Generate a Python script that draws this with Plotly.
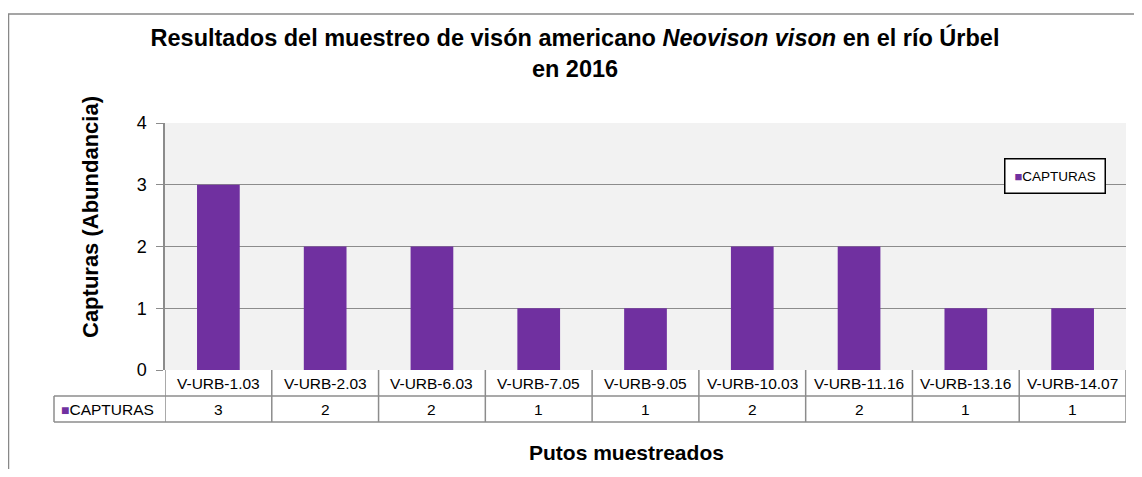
import plotly.graph_objects as go

# Datos del gráfico
puntos = ['V-URB-1.03', 'V-URB-2.03', 'V-URB-6.03', 'V-URB-7.05', 'V-URB-9.05',
          'V-URB-10.03', 'V-URB-11.16', 'V-URB-13.16', 'V-URB-14.07']
capturas = [3, 2, 2, 1, 1, 2, 2, 1, 1]
serie = 'CAPTURAS'

# La página deja 8 px de margen, así que todo se mide en píxeles de la imagen y se desplaza
OFF = 8
W, H = 1142 - 2 * OFF, 477 - 2 * OFF
L, R, T, B = 165, 1126, 123, 370  # área de trazado (px de la imagen)
morado = '#7030A0'
gris = '#8C8C8C'


def px(x):
    return (x - L) / (R - L)


def py(y):
    return (B - y) / (B - T)


fig = go.Figure()
fig.add_trace(go.Bar(x=list(range(len(puntos))), y=capturas, name=serie,
                     marker=dict(color=morado, line=dict(width=0)), width=0.4,
                     showlegend=False))

shapes = []
annotations = []

# Marco exterior del gráfico
shapes.append(dict(type='rect', xref='paper', yref='paper',
                   x0=px(8.5), x1=px(1160), y0=py(14), y1=py(500),
                   line=dict(color='#888888', width=1.5), layer='below'))

# Tabla de datos bajo el eje
y_fila1, y_fila2, y_fila3 = 370, 396, 422
for y in (y_fila2, y_fila3):
    shapes.append(dict(type='line', xref='paper', yref='paper', x0=px(54), x1=px(R),
                       y0=py(y), y1=py(y), line=dict(color=gris, width=1.5)))
for i in range(len(puntos) + 1):
    shapes.append(dict(type='line', xref='x', yref='paper', x0=i - 0.5, x1=i - 0.5,
                       y0=py(y_fila1), y1=py(y_fila3), line=dict(color=gris, width=1.5)))
shapes.append(dict(type='line', xref='paper', yref='paper', x0=px(54), x1=px(54),
                   y0=py(y_fila2), y1=py(y_fila3), line=dict(color=gris, width=1.5)))

for i, (p, c) in enumerate(zip(puntos, capturas)):
    annotations.append(dict(x=i, y=py((y_fila1 + y_fila2) / 2), xref='x', yref='paper',
                            xanchor='center', yanchor='middle',
                            text=p, showarrow=False, font=dict(size=15.5, color='#000')))
    annotations.append(dict(x=i, y=py((y_fila2 + y_fila3) / 2), xref='x', yref='paper',
                            xanchor='center', yanchor='middle',
                            text=str(c), showarrow=False, font=dict(size=15.5, color='#000')))

annotations.append(dict(x=px(59), y=py((y_fila2 + y_fila3) / 2), xref='paper', yref='paper',
                        xanchor='left', yanchor='middle',
                        text='<span style="color:%s;font-size:14px">■</span>%s' % (morado, serie),
                        showarrow=False, font=dict(size=15.5, color='#000')))

# Leyenda
annotations.append(dict(x=px(1004), y=py(158), xref='paper', yref='paper',
                        xanchor='left', yanchor='top',
                        text='<span style="color:%s;font-size:13px">■</span>%s' % (morado, serie),
                        showarrow=False, font=dict(size=13.5, color='#000'),
                        bgcolor='white', bordercolor='#000', borderwidth=1.5,
                        borderpad=9))

# Títulos de los ejes
annotations.append(dict(x=px(90), y=py(217), xref='paper', yref='paper', textangle=-90,
                        xanchor='center', yanchor='middle',
                        text='<b>Capturas (Abundancia)</b>', showarrow=False,
                        font=dict(size=22, color='#000')))
annotations.append(dict(x=px(626), y=py(452), xref='paper', yref='paper',
                        xanchor='center', yanchor='middle',
                        text='<b>Putos muestreados</b>', showarrow=False,
                        font=dict(size=21, color='#000')))

fig.update_layout(
    width=W, height=H,
    margin=dict(l=L - OFF, r=W - (R - OFF), t=T - OFF, b=H - (B - OFF), pad=0),
    paper_bgcolor='white', plot_bgcolor='#F2F2F2',
    font=dict(family='Liberation Sans, Arial', color='#000'),
    title=dict(text='<b>Resultados del muestreo de visón americano <i>Neovison vison</i> en el río Úrbel<br>en 2016</b>',
               x=(575 - OFF) / W, xanchor='center', y=1 - (46 - OFF) / H, yanchor='middle',
               font=dict(size=23.5, color='#000')),
    bargap=0.6,
    showlegend=False,
    shapes=shapes, annotations=annotations,
)
fig.update_xaxes(range=[-0.5, len(puntos) - 0.5], showticklabels=False, showgrid=False,
                 showline=False, zeroline=False, ticks='')
fig.update_yaxes(range=[0, 4], dtick=1, showgrid=True, gridcolor=gris, gridwidth=1,
                 showline=True, linecolor=gris, linewidth=1.5, ticks='outside', ticklen=7,
                 tickcolor=gris, tickfont=dict(size=18), ticklabelstandoff=6, zeroline=False)

fig.write_html("out.html")
